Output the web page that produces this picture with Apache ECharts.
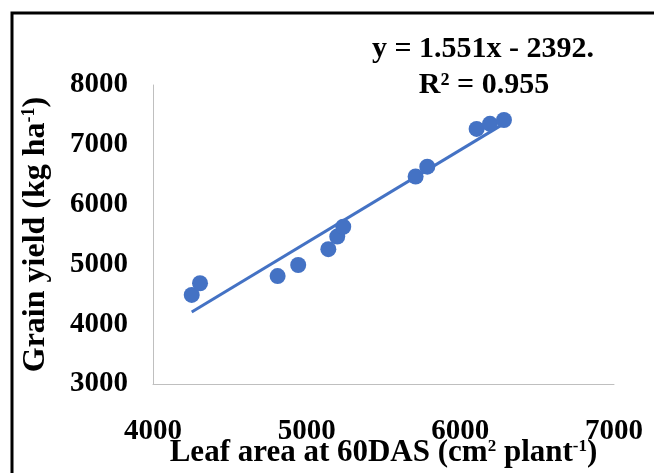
<!DOCTYPE html>
<html>
<head>
<meta charset="utf-8">
<script src="https://cdn.jsdelivr.net/npm/echarts@6/dist/echarts.min.js"></script>
<style>
  html, body { margin: 0; padding: 0; background: #fff; }
  #chart { width: 654px; height: 473px; }
</style>
</head>
<body>
<div id="chart"></div>
<script>
// leaf area at 60 DAS (cm2 plant-1) vs grain yield (kg ha-1)
const leafArea = [4252, 4306, 4811, 4945, 5141, 5199, 5238, 5709, 5785, 6106, 6193, 6284];
const grainYield = [4490, 4685, 4805, 4990, 5255, 5465, 5630, 6470, 6635, 7265, 7350, 7415];

// linear trend from the chart's own label
const slope = 1.551;
const intercept = -2392;

const xTicks = [4000, 5000, 6000, 7000];
const yTicks = [3000, 4000, 5000, 6000, 7000, 8000];

const points = leafArea.map((x, i) => [x, grainYield[i]]);
const xMin = Math.min(...leafArea);
const xMax = Math.max(...leafArea);
const trend = [[xMin, slope * xMin + intercept], [xMax, slope * xMax + intercept]];

const chart = echarts.init(document.getElementById("chart"));
const serif = "Liberation Serif";
const blue = "#4472C4";

const titleRich = (size) => ({
    n: { fontFamily: serif, fontWeight: "bold", fontSize: size, color: "#000" },
    s: { fontFamily: serif, fontWeight: "bold", fontSize: Math.round(size * 0.55), color: "#000", padding: [0, 0, Math.round(size * 0.4), 0] },
});

chart.setOption({
    animation: false,
    backgroundColor: "#fff",
    grid: { left: 153, right: 40, top: 85, bottom: 89, outerBoundsMode: "none", containLabel: false },
    xAxis: {
        type: "value",
        min: xTicks[0],
        max: xTicks[xTicks.length - 1],
        interval: 1000,
        splitLine: { show: false },
        axisTick: { show: false },
        axisLine: { lineStyle: { color: "#bfbfbf", width: 1 } },
        axisLabel: {
            color: "#000",
            fontFamily: serif,
            fontWeight: "bold",
            fontSize: 29,
            margin: 33,
            formatter: (v) => String(v),
        },
        name: "{n|Leaf area at 60DAS (cm}{s|2}{n| plant}{s|-1}{n|)}",
        nameLocation: "middle",
        nameGap: 53,
        nameMoveOverlap: false,
        nameTextStyle: { rich: titleRich(31) },
    },
    yAxis: {
        type: "value",
        min: yTicks[0],
        max: yTicks[yTicks.length - 1],
        interval: 1000,
        splitLine: { show: false },
        axisTick: { show: false },
        axisLine: { show: true, lineStyle: { color: "#bfbfbf", width: 1 } },
        axisLabel: {
            color: "#000",
            fontFamily: serif,
            fontWeight: "bold",
            fontSize: 29,
            margin: 25,
            formatter: (v) => String(v),
        },
        name: "{n|Grain yield (kg ha}{s|-1}{n|)}",
        nameLocation: "middle",
        nameGap: 101,
        nameMoveOverlap: false,
        nameTextStyle: { rich: titleRich(32) },
    },
    graphic: [
        {
            type: "rect",
            shape: { x: 12, y: 13, width: 700, height: 520 },
            style: { fill: null, stroke: "#000", lineWidth: 3 },
            silent: true,
        },
        {
            type: "text",
            x: 483,
            y: 49,
            style: {
                text: "y = 1.551x - 2392.",
                font: "bold 30px 'Liberation Serif'",
                fill: "#000",
                textAlign: "center",
                textVerticalAlign: "middle",
            },
        },
        {
            type: "text",
            x: 484,
            y: 85,
            style: {
                text: "R² = 0.955",
                font: "bold 30px 'Liberation Serif'",
                fill: "#000",
                textAlign: "center",
                textVerticalAlign: "middle",
            },
        },
    ],
    series: [
        {
            type: "line",
            data: trend,
            symbol: "none",
            lineStyle: { color: blue, width: 3 },
            z: 1,
        },
        {
            type: "scatter",
            data: points,
            symbolSize: 16,
            itemStyle: { color: blue, opacity: 1 },
            z: 2,
        },
    ],
});
</script>
</body>
</html>
